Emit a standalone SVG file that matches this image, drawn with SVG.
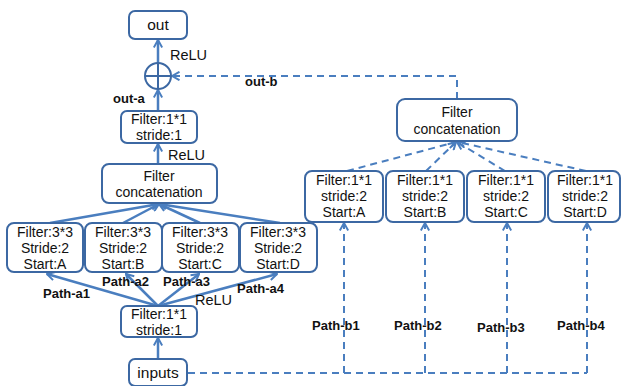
<svg xmlns="http://www.w3.org/2000/svg" width="622" height="386" viewBox="0 0 622 386">
  <defs>
    <marker id="ah" viewBox="0 0 10 10" refX="9" refY="5" markerWidth="10" markerHeight="10" markerUnits="userSpaceOnUse" orient="auto">
      <path d="M1.5,0.8 L9,5 L1.5,9.2" fill="none" stroke="#4a7ebf" stroke-width="2"/>
    </marker>
    <style>
      .box { fill: #ffffff; stroke: #3c68a3; stroke-width: 2; }
      .t { font-family: "Liberation Sans", Arial, sans-serif; font-size: 14px; fill: #111111; text-anchor: middle; }
      .lbl { font-family: "Liberation Sans", Arial, sans-serif; font-size: 14.5px; fill: #111111; }
      .b { font-family: "Liberation Sans", Arial, sans-serif; font-size: 13px; font-weight: bold; fill: #111111; }
      .solid { fill: none; stroke: #4a7ebf; stroke-width: 2.5; marker-end: url(#ah); }
      .dash { fill: none; stroke: #4a7ebf; stroke-width: 2; stroke-dasharray: 7 5; }
      .dasharr { fill: none; stroke: #4a7ebf; stroke-width: 2; stroke-dasharray: 7 5; marker-end: url(#ah); }
    </style>
  </defs>

  <!-- connectors -->
  <g id="connectors">
    <!-- main path, solid -->
    <line class="solid" x1="158" y1="360" x2="158" y2="338"/>
    <line class="solid" x1="158" y1="306" x2="47" y2="274"/>
    <line class="solid" x1="158" y1="306" x2="126" y2="274"/>
    <line class="solid" x1="158" y1="306" x2="199" y2="274"/>
    <line class="solid" x1="158" y1="306" x2="277" y2="274"/>
    <line class="solid" x1="50" y1="223" x2="159" y2="204"/>
    <line class="solid" x1="123" y1="223" x2="159" y2="204"/>
    <line class="solid" x1="200" y1="223" x2="159" y2="204"/>
    <line class="solid" x1="280" y1="223" x2="159" y2="204"/>
    <line class="solid" x1="158" y1="164" x2="158" y2="144"/>
    <line class="solid" x1="158" y1="111" x2="158" y2="90"/>
    <line class="solid" x1="158" y1="63" x2="158" y2="40"/>
    <!-- shortcut path, dashed -->
    <polyline class="dash" points="188,373 587,373"/>
    <line class="dasharr" x1="344" y1="373" x2="344" y2="223"/>
    <line class="dasharr" x1="425" y1="373" x2="425" y2="223"/>
    <line class="dasharr" x1="507" y1="373" x2="507" y2="223"/>
    <line class="dasharr" x1="587" y1="373" x2="587" y2="223"/>
    <line class="dasharr" x1="347" y1="171" x2="456" y2="142"/>
    <line class="dasharr" x1="426" y1="171" x2="456" y2="142"/>
    <line class="dasharr" x1="505" y1="171" x2="457" y2="142"/>
    <line class="dasharr" x1="586" y1="171" x2="458" y2="142"/>
    <polyline class="dasharr" points="457,99 457,76 172,76"/>
  </g>

  <!-- edge labels -->
  <g id="labels">
    <text class="lbl" x="170" y="60">ReLU</text>
    <text class="lbl" x="168" y="160">ReLU</text>
    <text class="lbl" x="195" y="305">ReLU</text>
    <text class="b" x="113" y="103">out-a</text>
    <text class="b" x="245" y="86">out-b</text>
    <text class="b" x="43" y="298">Path-a1</text>
    <text class="b" x="102" y="286">Path-a2</text>
    <text class="b" x="163" y="286">Path-a3</text>
    <text class="b" x="237" y="293">Path-a4</text>
    <text class="b" x="312" y="330">Path-b1</text>
    <text class="b" x="394" y="330">Path-b2</text>
    <text class="b" x="477" y="332">Path-b3</text>
    <text class="b" x="557" y="330">Path-b4</text>
  </g>

  <g id="out">
    <rect class="box" x="129" y="11" width="58" height="28" rx="6"/>
    <text class="t" x="158" y="30" style="font-size:15.5px">out</text>
  </g>

  <g id="sum">
    <circle cx="158" cy="76" r="13" fill="#ffffff" stroke="#3c68a3" stroke-width="2"/>
    <line x1="145" y1="76" x2="171" y2="76" stroke="#3c68a3" stroke-width="2"/>
    <line x1="158" y1="63" x2="158" y2="89" stroke="#3c68a3" stroke-width="2"/>
  </g>

  <g id="conv-a-out">
    <rect class="box" x="121" y="111" width="76" height="32" rx="6"/>
    <text class="t" x="159" y="124">Filter:1*1<tspan x="159" dy="16">stride:1</tspan></text>
  </g>

  <g id="concat-a">
    <rect class="box" x="102" y="164" width="115" height="39" rx="7"/>
    <text class="t" x="159" y="181">Filter<tspan x="159" dy="16">concatenation</tspan></text>
  </g>

  <g id="conv-a1">
    <rect class="box" x="7" y="223" width="76" height="49" rx="7"/>
    <text class="t" x="45" y="237">Filter:3*3<tspan x="45" dy="16">Stride:2</tspan><tspan x="45" dy="16">Start:A</tspan></text>
  </g>
  <g id="conv-a2">
    <rect class="box" x="85" y="223" width="77" height="49" rx="7"/>
    <text class="t" x="123" y="237">Filter:3*3<tspan x="123" dy="16">Stride:2</tspan><tspan x="123" dy="16">Start:B</tspan></text>
  </g>
  <g id="conv-a3">
    <rect class="box" x="162" y="223" width="77" height="49" rx="7"/>
    <text class="t" x="200" y="237">Filter:3*3<tspan x="200" dy="16">Stride:2</tspan><tspan x="200" dy="16">Start:C</tspan></text>
  </g>
  <g id="conv-a4">
    <rect class="box" x="240" y="223" width="77" height="49" rx="7"/>
    <text class="t" x="278" y="237">Filter:3*3<tspan x="278" dy="16">Stride:2</tspan><tspan x="278" dy="16">Start:D</tspan></text>
  </g>

  <g id="conv-in">
    <rect class="box" x="121" y="306" width="76" height="31" rx="6"/>
    <text class="t" x="159" y="319">Filter:1*1<tspan x="159" dy="16">stride:1</tspan></text>
  </g>

  <g id="inputs">
    <rect class="box" x="129" y="359" width="58" height="27" rx="6"/>
    <text class="t" x="158" y="378" style="font-size:15.5px">inputs</text>
  </g>

  <g id="concat-b">
    <rect class="box" x="397" y="99" width="120" height="42" rx="8"/>
    <text class="t" x="457" y="117">Filter<tspan x="457" dy="17">concatenation</tspan></text>
  </g>

  <g id="conv-b1">
    <rect class="box" x="305" y="171" width="78" height="51" rx="7"/>
    <text class="t" x="344" y="185">Filter:1*1<tspan x="344" dy="16">stride:2</tspan><tspan x="344" dy="16">Start:A</tspan></text>
  </g>
  <g id="conv-b2">
    <rect class="box" x="386" y="171" width="78" height="51" rx="7"/>
    <text class="t" x="425" y="185">Filter:1*1<tspan x="425" dy="16">stride:2</tspan><tspan x="425" dy="16">Start:B</tspan></text>
  </g>
  <g id="conv-b3">
    <rect class="box" x="467" y="171" width="78" height="51" rx="7"/>
    <text class="t" x="506" y="185">Filter:1*1<tspan x="506" dy="16">stride:2</tspan><tspan x="506" dy="16">Start:C</tspan></text>
  </g>
  <g id="conv-b4">
    <rect class="box" x="548" y="171" width="72" height="51" rx="7"/>
    <text class="t" x="585" y="185">Filter:1*1<tspan x="585" dy="16">stride:2</tspan><tspan x="585" dy="16">Start:D</tspan></text>
  </g>
</svg>
